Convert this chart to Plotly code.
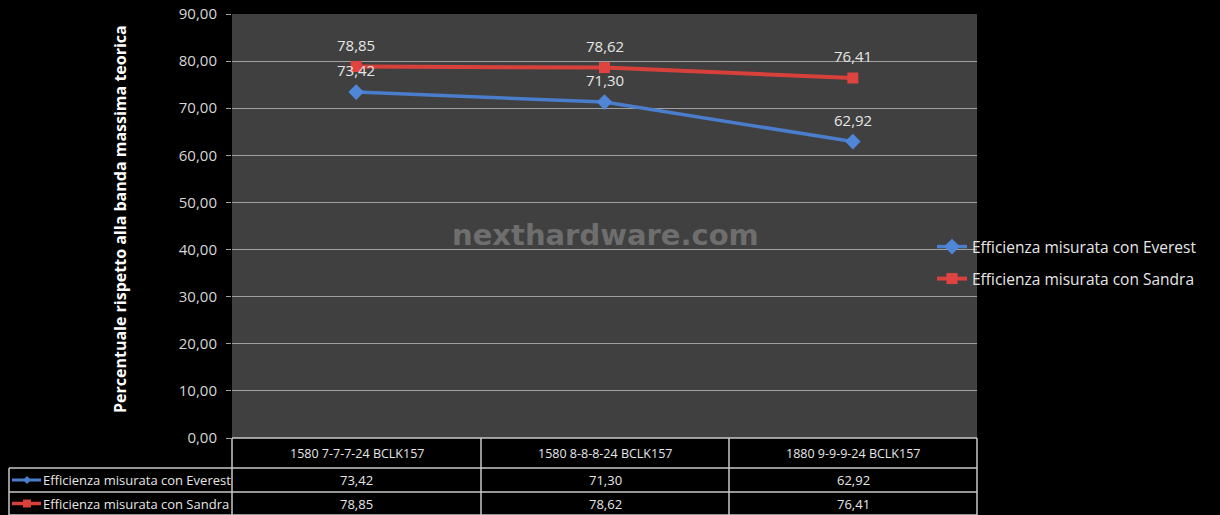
import plotly.graph_objects as go

categories = ["1580 7-7-7-24 BCLK157", "1580 8-8-8-24 BCLK157", "1880 9-9-9-24 BCLK157"]
everest = [73.42, 71.30, 62.92]
sandra = [78.85, 78.62, 76.41]
series_names = ["Efficienza misurata con Everest", "Efficienza misurata con Sandra"]
y_ticks = [0, 10, 20, 30, 40, 50, 60, 70, 80, 90]
y_title = "Percentuale rispetto alla banda massima teorica"
watermark = "nexthardware.com"

W, H = 1220, 515
ML, MR, MT, MB = 232, 243, 14, 77
PW, PH = W - ML - MR, H - MT - MB


def px_x(px):
    return (px - ML) / PW


def px_y(py):
    return (H - MB - py) / PH


BLUE = "#4a7dcc"
RED = "#d8403c"
TXT = "#e6e6e6"
FONT = "Open Sans"


def fmt(v):
    return f"{v:.2f}".replace(".", ",")


fig = go.Figure()
fig.add_trace(go.Scatter(
    x=categories, y=everest, mode="lines+markers", name=series_names[0],
    line=dict(color=BLUE, width=3.5),
    marker=dict(symbol="diamond", size=12, color="#4f86d8"),
    legend="legend",
))
fig.add_trace(go.Scatter(
    x=categories, y=sandra, mode="lines+markers", name=series_names[1],
    line=dict(color=RED, width=4),
    marker=dict(symbol="square", size=11, color="#e04440"),
    legend="legend2",
))

annotations = []
for ser in (everest, sandra):
    for c, v in zip(categories, ser):
        annotations.append(dict(
            x=c, y=v, xref="x", yref="y", text=fmt(v), showarrow=False,
            xanchor="center", yanchor="middle",
            yshift=22, font=dict(family=FONT, size=15, color=TXT),
        ))

# y axis title
annotations.append(dict(
    x=px_x(120), y=px_y(219), xref="paper", yref="paper", text="<b>" + y_title + "</b>",
    xanchor="center", yanchor="middle",
    textangle=-90, showarrow=False, font=dict(family=FONT, size=16, color="#ffffff"),
))

# watermark
annotations.append(dict(
    x=px_x(605), y=px_y(235), xref="paper", yref="paper", text="<b>" + watermark + "</b>",
    xanchor="center", yanchor="middle",
    showarrow=False, font=dict(family="DejaVu Sans", size=29, color="#6e6e6e"),
))

# data table
col_edges = [232, 481, 729, 977]
row_edges = [438, 468, 492, 515]
left_edge = 9
line_style = dict(color="#c8c8c8", width=1.5)
shapes = []
shapes.append(dict(type="line", xref="paper", yref="paper", x0=px_x(col_edges[0]), x1=px_x(col_edges[-1]),
                   y0=px_y(row_edges[0]), y1=px_y(row_edges[0]), line=line_style))
for ry in row_edges[1:]:
    shapes.append(dict(type="line", xref="paper", yref="paper", x0=px_x(left_edge), x1=px_x(col_edges[-1]),
                       y0=px_y(ry), y1=px_y(ry), line=line_style))
for cx in col_edges:
    shapes.append(dict(type="line", xref="paper", yref="paper", x0=px_x(cx), x1=px_x(cx),
                       y0=px_y(row_edges[0]), y1=px_y(row_edges[-1]), line=line_style))
shapes.append(dict(type="line", xref="paper", yref="paper", x0=px_x(left_edge), x1=px_x(left_edge),
                   y0=px_y(row_edges[1]), y1=px_y(row_edges[-1]), line=line_style))

cat_font = dict(family=FONT, size=12.5, color=TXT)
val_font = dict(family=FONT, size=13, color=TXT)
for i, c in enumerate(categories):
    cx = (col_edges[i] + col_edges[i + 1]) / 2
    annotations.append(dict(x=px_x(cx), y=px_y((row_edges[0] + row_edges[1]) / 2), xref="paper", yref="paper",
                            xanchor="center", yanchor="middle",
                            text=c, showarrow=False, font=cat_font))
for r, ser in enumerate((everest, sandra)):
    cy = (row_edges[r + 1] + row_edges[r + 2]) / 2
    for i, v in enumerate(ser):
        cx = (col_edges[i] + col_edges[i + 1]) / 2
        annotations.append(dict(x=px_x(cx), y=px_y(cy), xref="paper", yref="paper",
                                xanchor="center", yanchor="middle",
                                text=fmt(v), showarrow=False, font=val_font))
    annotations.append(dict(x=px_x(41), y=px_y(cy), xref="paper", yref="paper",
                            xanchor="left", yanchor="middle",
                            text=series_names[r], showarrow=False, font=val_font))
    col = BLUE if r == 0 else RED
    shapes.append(dict(type="line", xref="paper", yref="paper", x0=px_x(12), x1=px_x(41),
                       y0=px_y(cy), y1=px_y(cy), line=dict(color=col, width=3 if r == 0 else 3.5)))
    yc = px_y(cy)
    xc = px_x(27)
    dx, dy = 4 / PW, 4 / PH
    if r == 0:
        path = f"M {xc-dx},{yc} L {xc},{yc+dy} L {xc+dx},{yc} L {xc},{yc-dy} Z"
    else:
        path = f"M {xc-dx},{yc-dy} L {xc+dx},{yc-dy} L {xc+dx},{yc+dy} L {xc-dx},{yc+dy} Z"
    shapes.append(dict(type="path", xref="paper", yref="paper", path=path,
                       fillcolor=col, line=dict(width=0)))

legend_common = dict(
    xref="paper", yref="paper", xanchor="left", yanchor="middle",
    bgcolor="rgba(0,0,0,0)", font=dict(family=FONT, size=15.5, color=TXT),
    itemwidth=30, borderwidth=0,
)

fig.update_layout(
    width=W, height=H,
    margin=dict(l=ML, r=MR, t=MT, b=MB, autoexpand=False),
    paper_bgcolor="#000000", plot_bgcolor="#404040",
    separators=",.",
    showlegend=True,
    legend=dict(x=px_x(932), y=px_y(247), **legend_common),
    legend2=dict(x=px_x(932), y=px_y(279), **legend_common),
    xaxis=dict(
        type="category", range=[-0.5, 2.5], showticklabels=False, showgrid=False,
        zeroline=False, ticks="", fixedrange=True,
    ),
    yaxis=dict(
        range=[0, 90], tickvals=y_ticks, tickformat=".2f",
        showgrid=True, gridcolor="#a0a0a0", gridwidth=1,
        ticks="outside", ticklen=5, tickcolor="#a0a0a0",
        zeroline=False, showline=False,
        tickfont=dict(family=FONT, size=15, color="#d6d6d6"),
        ticklabelstandoff=6,
    ),
    shapes=shapes,
    annotations=annotations,
)

fig.write_html(
    "out.html",
    config={"displayModeBar": False},
    post_script="document.body.style.margin='0';document.body.style.background='#000';",
)
